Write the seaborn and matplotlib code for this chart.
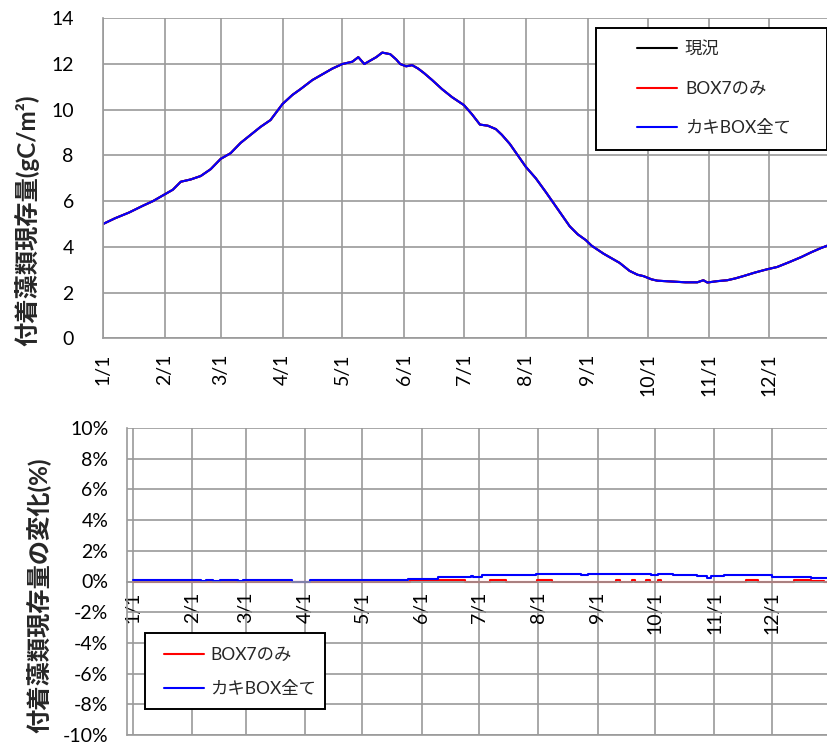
import numpy as np
import pandas as pd
import matplotlib
matplotlib.use("Agg")
import matplotlib.pyplot as plt
from matplotlib.patches import Rectangle
from matplotlib.lines import Line2D
import seaborn as sns

# ---- data -------------------------------------------------------------
# day of year (0 = 1/1) and standing stock of attached algae (gC/m2)
stock_days = [0, 6, 13, 20, 25, 30, 35, 39, 44, 49, 54, 59, 64, 69, 74, 79, 84,
              90, 95, 99, 105, 111, 115, 120, 125, 128, 131, 134, 137, 140, 144,
              147, 149, 152, 155, 158, 161, 165, 170, 175, 181, 185, 189, 193,
              197, 200, 204, 208, 212, 217, 222, 226, 230, 234, 238, 242, 245,
              251, 255, 259, 264, 268, 271, 275, 278, 286, 292, 298, 301, 303,
              308, 313, 317, 321, 327, 333, 338, 344, 350, 355, 360, 364]
genkyo = [5.0, 5.25, 5.5, 5.8, 6.0, 6.25, 6.5, 6.85, 6.95, 7.1, 7.4, 7.85, 8.1,
          8.55, 8.9, 9.25, 9.55, 10.25, 10.65, 10.9, 11.3, 11.6, 11.8, 12.0,
          12.1, 12.3, 12.0, 12.15, 12.3, 12.5, 12.43, 12.2, 12.0, 11.9, 11.95,
          11.8, 11.6, 11.3, 10.9, 10.55, 10.2, 9.8, 9.35, 9.3, 9.15, 8.9, 8.5,
          8.0, 7.5, 7.0, 6.4, 5.9, 5.4, 4.9, 4.55, 4.3, 4.05, 3.7, 3.5, 3.3,
          2.95, 2.78, 2.72, 2.58, 2.52, 2.48, 2.45, 2.45, 2.54, 2.44, 2.5, 2.54,
          2.62, 2.72, 2.88, 3.02, 3.12, 3.33, 3.55, 3.76, 3.95, 4.08]
box7_only = list(genkyo)
kaki_all = list(genkyo)

# change of standing stock relative to the present state (%), step values
box7_change_days = [0, 128, 145, 173.6, 186.7, 195, 211, 218.8, 252.5, 254.5,
                    261, 262.3, 268, 270.4, 274.7, 276, 320.5, 327, 345.5,
                    354.3, 361.5, 364]
box7_change = [0.0, 0.0, 0.07, 0.0, 0.07, 0.0, 0.08, 0.0, 0.07, 0.0,
               0.07, 0.0, 0.07, 0.0, 0.07, 0.0, 0.07, 0.0, 0.07,
               0.03, 0.0, 0.0]
kaki_change_days = [0, 35.7, 38, 41.6, 45.7, 55, 57.5, 83, 92.7, 143.9, 159.3,
                    176.5, 178, 182.6, 210.5, 234, 238, 270.6, 274.7, 282.3,
                    294.9, 300.3, 302, 309, 334, 354.3, 363.8, 364]
kaki_change = [0.08, 0.02, 0.08, 0.02, 0.08, 0.02, 0.07, 0.0, 0.07, 0.15, 0.3,
               0.38, 0.27, 0.42, 0.48, 0.42, 0.48, 0.42, 0.48, 0.42,
               0.36, 0.22, 0.33, 0.42, 0.3, 0.22, 0.3, 0.3]

month_days = [0, 31, 59, 90, 120, 151, 181, 212, 243, 273, 304, 334]
month_labels = ["1/1", "2/1", "3/1", "4/1", "5/1", "6/1",
                "7/1", "8/1", "9/1", "10/1", "11/1", "12/1"]

# ---- style --------------------------------------------------------------
sns.set_style("white")
plt.rcParams["font.family"] = ["Lato", "Noto Sans CJK JP"]
GRID = "#9a9a9a"
W, H = 828, 745

fig = plt.figure(figsize=(W / 100, H / 100), dpi=100)


def fig_rect(x0, y0, x1, y1):
    """Pixel box (top-left origin) -> figure fraction rect."""
    return [x0 / W, (H - y1) / H, (x1 - x0) / W, (y1 - y0) / H]


def style_axes(ax):
    ax.grid(True, color=GRID, linewidth=1.2)
    ax.set_axisbelow(True)
    for s in ("top", "right"):
        ax.spines[s].set_visible(False)
    for s in ("left", "bottom"):
        ax.spines[s].set_color(GRID)
        ax.spines[s].set_linewidth(1.2)
    ax.set_xticks(month_days)
    ax.set_xticklabels(month_labels)
    ax.tick_params(axis="x", labelrotation=90, labelsize=14)
    ax.tick_params(axis="y", labelsize=14)
    ax.tick_params(axis="both", colors=GRID, labelcolor="black",
                   direction="out", length=5, width=1.2)


# ---- upper panel: standing stock ----------------------------------------
ax1 = fig.add_axes(fig_rect(103, 18.3, 831, 338.3))
series = [("現況", genkyo, "black"),
          ("BOX7のみ", box7_only, "#ff0000"),
          ("カキBOX全て", kaki_all, "#0000ff")]
for name, vals, col in series:
    sns.lineplot(x=stock_days, y=vals, ax=ax1, color=col, linewidth=1.5,
                 sort=False, estimator=None, legend=False)
ax1.set_xlim(0, 365)
ax1.set_ylim(0, 14)
ax1.set_yticks(np.arange(0, 15, 2))
style_axes(ax1)
ax1.tick_params(axis="y", pad=16)
ax1.tick_params(axis="x", pad=6)
ax1.set_ylabel("付着藻類現存量(gC/m²)", fontsize=17.5, fontweight="bold",
               va="center")
ax1.yaxis.set_label_coords(-0.104, 0.37)

ax1.add_patch(Rectangle((596 / W, 1 - 150 / H), 231 / W, 122 / H,
                        transform=fig.transFigure, facecolor="white",
                        edgecolor="black", linewidth=1.4, zorder=5,
                        clip_on=False))
h1 = [Line2D([], [], color=c, linewidth=1.5) for _, _, c in series]
leg1 = ax1.legend(h1, [n for n, _, _ in series], loc="upper left",
                  bbox_to_anchor=(625 / W, 1 - 29 / H),
                  bbox_transform=fig.transFigure, frameon=False, fontsize=12.5,
                  handlelength=2.3, handletextpad=0.45, labelspacing=1.35,
                  borderpad=0.2)
leg1.set_zorder(6)

# ---- lower panel: change (%) ---------------------------------------------
ax2 = fig.add_axes(fig_rect(127, 428, 831, 735))
sns.lineplot(x=box7_change_days, y=box7_change, ax=ax2, color="#ff0000",
             linewidth=1.5, drawstyle="steps-post", sort=False,
             estimator=None, legend=False)
sns.lineplot(x=kaki_change_days, y=kaki_change, ax=ax2, color="#0000ff",
             linewidth=1.5, drawstyle="steps-post", sort=False,
             estimator=None, legend=False)
ax2.spines["bottom"].set_position(("data", 0))
ax2.set_xlim(-3.1, 364.9)
ax2.set_ylim(-10, 10)
ax2.set_yticks(np.arange(-10, 11, 2))
ax2.set_yticklabels([f"{v}%" for v in range(-10, 11, 2)])
style_axes(ax2)
# bottom edge gridline at -10 %
ax2.axhline(-10, color=GRID, linewidth=1.2, clip_on=False, zorder=0.5)
ax2.tick_params(axis="y", pad=8.5)
ax2.tick_params(axis="x", pad=2)
ax2.set_ylabel("付着藻類現存量の変化(%)", fontsize=17.5, fontweight="bold",
               va="center")
ax2.yaxis.set_label_coords(-0.126, 0.455)

ax2.add_patch(Rectangle((145 / W, 1 - 709 / H), 180 / W, 76 / H,
                        transform=fig.transFigure, facecolor="white",
                        edgecolor="black", linewidth=1.4, zorder=5,
                        clip_on=False))
h2 = [Line2D([], [], color=c, linewidth=1.5) for c in ("#ff0000", "#0000ff")]
leg2 = ax2.legend(h2, ["BOX7のみ", "カキBOX全て"], loc="upper left",
                  bbox_to_anchor=(152 / W, 1 - 635 / H),
                  bbox_transform=fig.transFigure, frameon=False, fontsize=12.5,
                  handlelength=2.3, handletextpad=0.35, labelspacing=1.05,
                  borderpad=0.2)
leg2.set_zorder(6)

fig.savefig("out.png", dpi=100)
